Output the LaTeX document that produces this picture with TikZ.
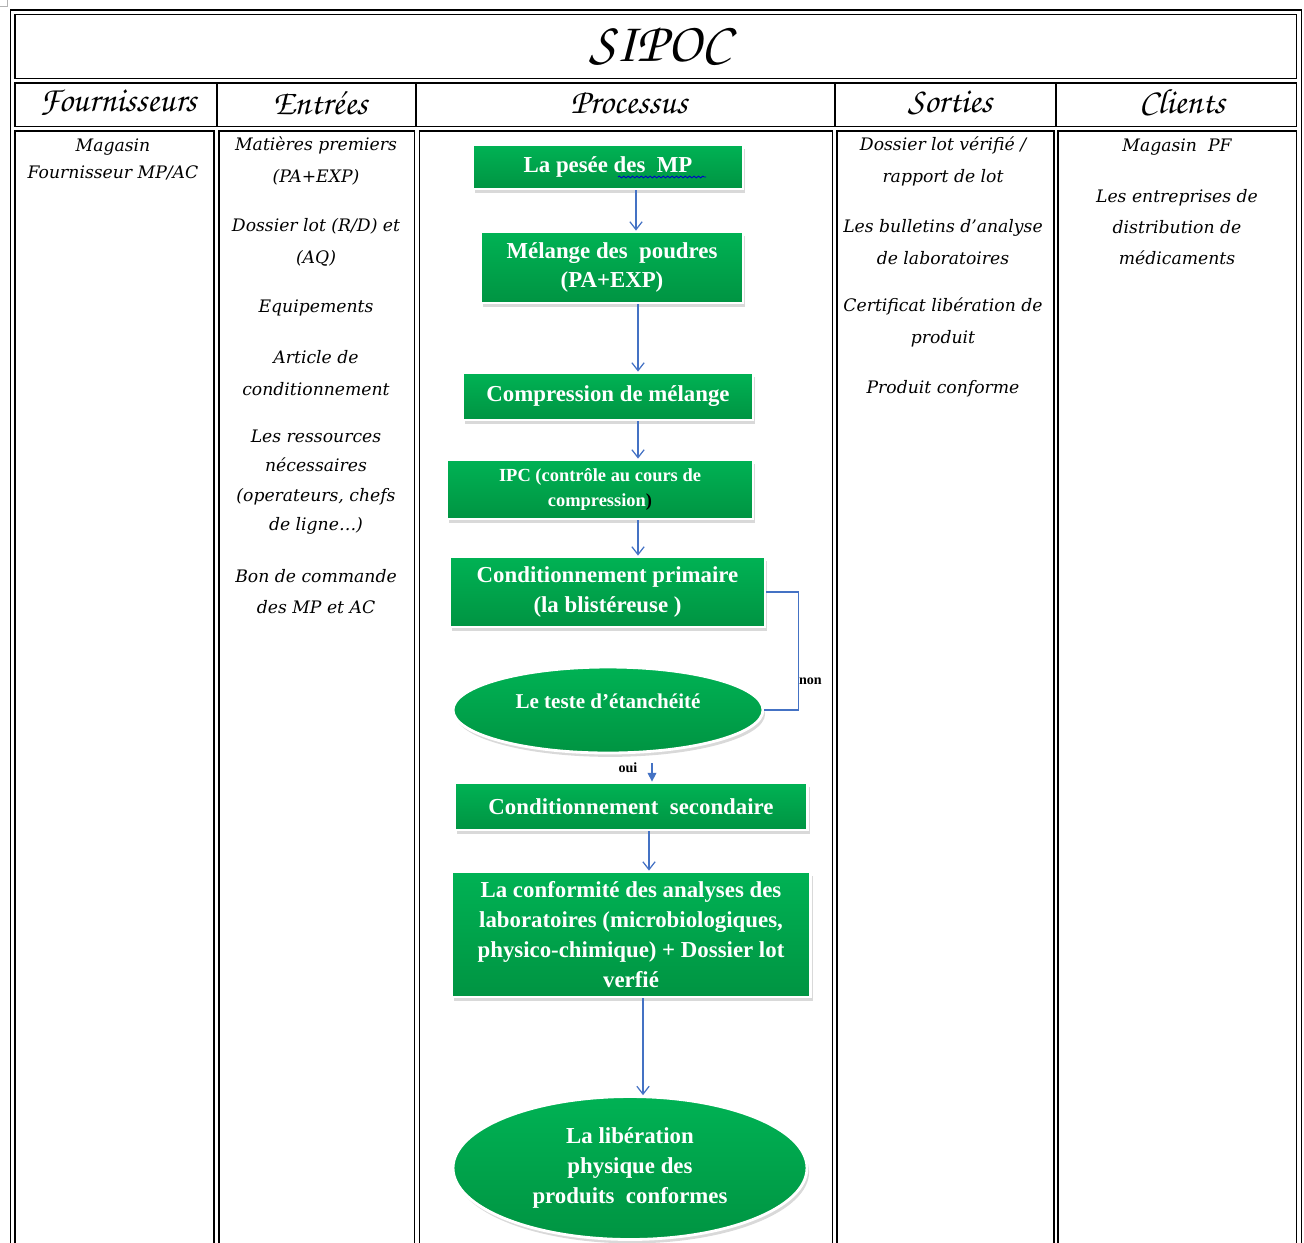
\documentclass[tikz,border=0pt]{standalone}
\usepackage{xcolor}
\usepackage{fontspec}
\usepackage{tikz}
\usetikzlibrary{shapes.geometric, arrows.meta, shadows, decorations.pathmorphing}
\setmainfont{Liberation Serif}
\newfontfamily\bodyfont{DejaVu Serif}
\newfontfamily\headfont{texgyrechorus-mediumitalic.otf}

\definecolor{gtop}{RGB}{0,178,84}
\definecolor{gbot}{RGB}{0,148,66}
\definecolor{arrowblue}{RGB}{68,114,196}

\tikzset{
  cell/.style={line width=0.75pt},
  head/.style={font=\headfont\fontsize{20}{21}\selectfont},
  txt/.style={font=\bodyfont\itshape\fontsize{9.8}{18.1}\selectfont, align=center, inner sep=0pt},
  proc/.style={rectangle, draw=white, line width=1.6pt, top color=gtop, bottom color=gbot,
    text=white, align=center, inner sep=2pt, font=\bfseries\fontsize{13}{17}\selectfont,
    drop shadow={shadow xshift=1.2pt, shadow yshift=-2.2pt, opacity=0.3}},
  ovalbox/.style={proc, ellipse},
  flow/.style={draw=arrowblue, line width=0.7pt, -{Straight Barb[length=4.5pt, width=7pt]}},
  flowtri/.style={draw=arrowblue, line width=0.7pt, -{Triangle[length=5pt, width=5pt]}},
  loopline/.style={draw=arrowblue, line width=0.7pt},
  lbl/.style={font=\bfseries\fontsize{8}{9}\selectfont, inner sep=1pt}
}

\begin{document}
\begin{tikzpicture}[x=0.02cm, y=-0.02cm]
    \useasboundingbox (0,0) rectangle (1304,1242);
    \clip (0,0) rectangle (1304,1242);
    \draw[gray!60, line width=0.4pt] (7,0) -- (7,6) -- (0,6);

    % Table frame
    \draw[cell] (10.5,10) rectangle (1301.5,1270);
    \draw[cell] (15,14.5) rectangle (1296.5,78.5);
    \draw[cell] (15,83) rectangle (1296.5,126.5);
    \foreach \x in {217, 416, 835, 1056} {
        \draw[cell] (\x,83) -- (\x,126.5);
    }
    \foreach \a/\b in {15/214, 219/414.5, 419.5/832.5, 837/1054, 1058/1296.5} {
        \draw[cell] (\a,131) rectangle (\b,1270);
    }

    % Title and column headers
    \node[font=\headfont\fontsize{32}{34}\selectfont] (sipoc) at (660,47) {SIPOC};
    \foreach \x/\t [count=\i] in {118/Fournisseurs, 320/Entrées, 629/Processus, 950/Sorties, 1182/Clients} {
        \node[head] (h\i) at (\x,103) {\t};
    }

    % Fournisseurs
    \node[txt] (four) at (113,159.5) {Magasin\\[-2.8pt]Fournisseur MP/AC};

    % Entrees
    \node[txt] (e1) at (316,161) {Matières premiers\\(PA+EXP)};
    \node[txt] (e2) at (316,242) {Dossier lot (R/D) et\\(AQ)};
    \node[txt] (e3) at (316,308) {Equipements};
    \node[txt] (e4) at (316,373) {Article de\\conditionnement};
    \node[txt] (e5) at (316,482) {Les ressources\\[-1.3pt]nécessaires\\[-1.3pt](operateurs, chefs\\[-1.3pt]de ligne…)};
    \node[txt] (e6) at (316,591.5) {Bon de commande\\des MP et AC};

    % Sorties
    \node[txt] (s1) at (943,161) {Dossier lot vérifié /\\rapport de lot};
    \node[txt] (s2) at (943,242) {Les bulletins d’analyse\\de laboratoires};
    \node[txt] (s3) at (943,322) {Certificat libération de\\produit};
    \node[txt] (s4) at (943,389) {Produit conforme};

    % Clients
    \node[txt] (c1) at (1177,147) {Magasin\ \ PF};
    \node[txt] (c2) at (1177,227) {Les entreprises de\\[-0.5pt]distribution de\\[-0.5pt]médicaments};

    % Processus
    \node[proc, minimum width=5.4cm, minimum height=0.88cm] (pesee) at (608,167) {La pesée des\ \ MP};
    \draw[blue!80!black, line width=0.5pt, decorate, decoration={snake, amplitude=0.5pt, segment length=2.5pt}] (618,177) -- (706,177);
    \node[proc, minimum width=5.24cm, minimum height=1.42cm] (melange) at (612,267.5) {Mélange des\ \ poudres\\(PA+EXP)};
    \node[proc, minimum width=5.8cm, minimum height=0.94cm] (compr) at (608,396.5) {Compression de mélange};
    \node[proc, minimum width=6.12cm, minimum height=1.18cm, font=\bfseries\fontsize{10.5}{14}\selectfont] (ipc) at (600,489.5) {IPC (contrôle au cours de\\compression\textcolor{black}{)}};
    \node[proc, minimum width=6.3cm, minimum height=1.4cm] (prim) at (607.5,592) {Conditionnement primaire\\(la blistéreuse )};
    \node[ovalbox, minimum width=6.2cm, minimum height=1.72cm, font=\bfseries\fontsize{12}{15}\selectfont] (teste) at (608,710) {\raisebox{10pt}{Le teste d'étanchéité}};
    \node[proc, minimum width=7.06cm, minimum height=0.94cm] (second) at (631,806.5) {Conditionnement\ \ secondaire};
    \node[proc, minimum width=7.18cm, minimum height=2.5cm] (conf) at (631,934.5) {La conformité des analyses des\\laboratoires (microbiologiques,\\physico-chimique) + Dossier lot\\verfié};
    \node[ovalbox, minimum width=7.08cm, minimum height=2.86cm] (liber) at (630,1168) {La libération\\physique des\\produits\ \ conformes};

    % Arrows
    \draw[flow] (pesee.south -| 636,0) -- (melange.north -| 636,0);
    \draw[flow] (melange.south -| 638,0) -- (compr.north -| 638,0);
    \draw[flow] (compr.south -| 638,0) -- (ipc.north -| 638,0);
    \draw[flow] (ipc.south -| 638,0) -- (prim.north -| 638,0);
    \draw[loopline] (prim.east) -- ++(32,0) |- node[lbl, pos=0.38, right=-1pt] {non} (teste.east);
    \draw[flowtri, shorten <=5pt] (teste.south -| 652,0) -- node[lbl, pos=0.5, left=7pt] {oui} (second.north -| 652,0);
    \draw[flow] (second.south -| 649,0) -- (conf.north -| 649,0);
    \draw[flow] (conf.south -| 643,0) -- (liber.north -| 643,0);
\end{tikzpicture}
\end{document}
